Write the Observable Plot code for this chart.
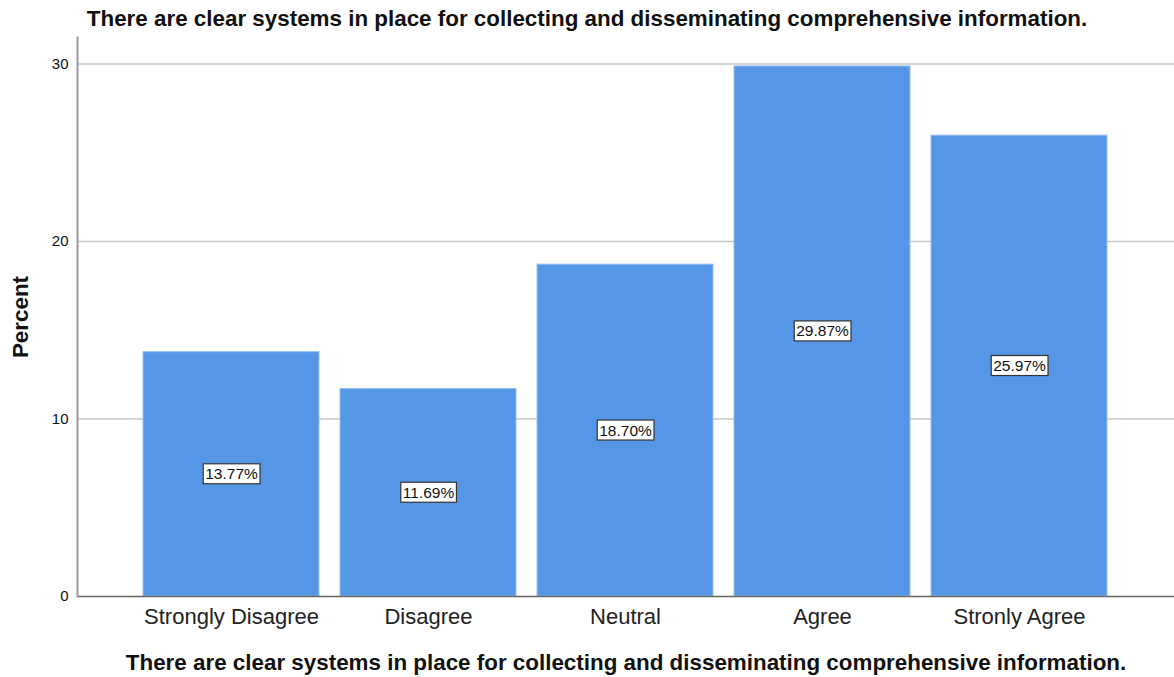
<!DOCTYPE html>
<html>
<head>
<meta charset="utf-8">
<script src="https://cdn.jsdelivr.net/npm/d3@7"></script>
<script src="https://cdn.jsdelivr.net/npm/@observablehq/plot@0.6"></script>
<style>
  html, body { margin: 0; padding: 0; background: #fff; }
  #wrap { position: relative; width: 1174px; height: 677px; }
  #title {
    position: absolute; left: 0; top: 0; width: 1174px; height: 37px;
    font: bold 22.4px "Liberation Sans", Arial, sans-serif; color: #111;
    line-height: 37px; text-align: center; white-space: nowrap;
  }
  #chart svg { display: block; }
</style>
</head>
<body>
<div id="wrap">
  <div id="chart"></div>
  <div id="title"></div>
</div>
<script>
// Survey item and response shares (percent of respondents)
const itemText = "There are clear systems in place for collecting and disseminating comprehensive information.";
const categories = ["Strongly Disagree", "Disagree", "Neutral", "Agree", "Stronly Agree"];
const percents = [13.77, 11.69, 18.70, 29.87, 25.97];
const yTicks = [0, 10, 20, 30];
const yLabel = "Percent";

const rows = categories.map((category, i) => ({category, percent: percents[i]}));

document.getElementById("title").textContent = itemText;

const chart = Plot.plot({
  width: 1174,
  height: 677,
  marginTop: 37,
  marginBottom: 81,
  marginLeft: 77,
  marginRight: 0,
  style: {fontFamily: "'Liberation Sans', Arial, sans-serif", color: "#222", background: "#fff"},
  x: {domain: categories, paddingInner: 0.106, paddingOuter: 0.328},
  y: {domain: [0, 31.5]},
  marks: [
    Plot.gridY(yTicks.filter(d => d > 0), {stroke: "#c8c8c8", strokeOpacity: 1, strokeWidth: 1.5}),
    Plot.barY(rows, {x: "category", y: "percent", fill: "#5596e6", stroke: "#9cc0f0", strokeWidth: 1}),
    Plot.ruleY([0], {stroke: "#666", strokeWidth: 1.5}),
    Plot.frame({anchor: "left", stroke: "#999", strokeWidth: 2}),
    Plot.axisY({ticks: yTicks, tickSize: 0, tickPadding: 9, fontSize: 15, label: null, fill: "#111"}),
    Plot.axisX({tickSize: 0, tickPadding: 12, fontSize: 22, label: null, fill: "#222", style: {letterSpacing: "0.6px"}}),
    Plot.text([itemText], {frameAnchor: "bottom", dy: 66, lineAnchor: "middle", fontSize: 22.4, fontWeight: "bold", fill: "#111"}),
    Plot.text([yLabel], {frameAnchor: "left", dx: -57, rotate: -90, textAnchor: "middle", fontSize: 22.4, fontWeight: "bold", fill: "#111"}),
    Plot.text(rows, {
      x: "category",
      y: d => d.percent / 2,
      text: d => d.percent.toFixed(2) + "%",
      fontSize: 15.5,
      fill: "#111",
      className: "value-label"
    })
  ]
});

document.getElementById("chart").appendChild(chart);

// White boxed backgrounds behind the value labels
d3.select(chart).selectAll(".value-label text").each(function () {
  const b = this.getBBox();
  d3.select(this.parentNode).insert("rect", () => this)
    .attr("transform", this.getAttribute("transform"))
    .attr("x", b.x - 2)
    .attr("y", b.y - 1.5)
    .attr("width", b.width + 4)
    .attr("height", b.height + 3)
    .attr("fill", "#fff")
    .attr("stroke", "#333")
    .attr("stroke-width", 1.2);
});
</script>
</body>
</html>
